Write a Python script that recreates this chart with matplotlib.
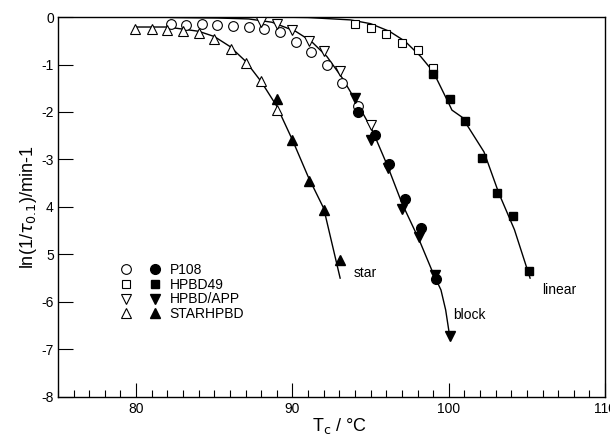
import matplotlib.pyplot as plt
from matplotlib.legend_handler import HandlerTuple
from matplotlib.ticker import MultipleLocator

plt.rcParams['font.family'] = ['Liberation Sans', 'DejaVu Sans']

## measured points (open = one set, filled = other set)
p108_open_x = [82.2, 83.2, 84.2, 85.2, 86.2, 87.2, 88.2, 89.2, 90.2, 91.2, 92.2, 93.2, 94.2]
p108_open_y = [-0.15, -0.17, -0.15, -0.17, -0.19, -0.22, -0.26, -0.32, -0.52, -0.74, -1.02, -1.38, -1.88]
p108_fill_x = [94.2, 95.3, 96.2, 97.2, 98.2, 99.2]
p108_fill_y = [-2.01, -2.48, -3.09, -3.83, -4.45, -5.52]

hpbd49_open_x = [94.0, 95.0, 96.0, 97.0, 98.0, 99.0]
hpbd49_open_y = [-0.14, -0.23, -0.36, -0.55, -0.70, -1.08]
hpbd49_fill_x = [99.0, 100.05, 101.05, 102.1, 103.1, 104.1, 105.1]
hpbd49_fill_y = [-1.19, -1.73, -2.19, -2.96, -3.71, -4.19, -5.36]

app_open_x = [88.0, 89.0, 90.0, 91.05, 92.0, 93.05, 95.0]
app_open_y = [-0.10, -0.15, -0.27, -0.50, -0.71, -1.13, -2.27]
app_fill_x = [94.0, 95.0, 96.1, 97.0, 98.1, 99.1, 100.1]
app_fill_y = [-1.71, -2.59, -3.19, -4.05, -4.64, -5.43, -6.72]

star_open_x = [79.9, 81.0, 82.0, 83.0, 84.0, 85.0, 86.05, 87.05, 88.0, 89.0]
star_open_y = [-0.26, -0.26, -0.28, -0.29, -0.34, -0.47, -0.67, -0.97, -1.35, -1.96]
star_fill_x = [89.0, 90.0, 91.05, 92.05, 93.05]
star_fill_y = [-1.73, -2.59, -3.46, -4.06, -5.12]

## fitted curves
star_cx = [80, 82, 84, 85, 86, 87, 88, 89, 90, 91, 92, 93.05]
star_cy = [-0.21, -0.21, -0.30, -0.41, -0.62, -0.93, -1.36, -1.88, -2.59, -3.36, -4.03, -5.5]
block_cx = [82.2, 85.2, 87.2, 88.7, 90.2, 91.2, 92.2, 93.2, 94.2, 95.1, 96.1, 97.0, 98.1, 99.0, 99.5, 99.8, 100.0]
block_cy = [-0.01, -0.02, -0.04, -0.11, -0.30, -0.51, -0.83, -1.29, -1.85, -2.38, -3.15, -3.92, -4.69, -5.40, -5.75, -6.17, -6.6]
linear_cx = [89.0, 91.0, 93.7, 95.0, 96.2, 97.2, 98.2, 99.0, 100.0, 100.2, 100.85, 102.25, 103.2, 104.2, 105.2]
linear_cy = [0.0, -0.01, -0.06, -0.14, -0.30, -0.51, -0.83, -1.15, -1.82, -1.96, -2.11, -2.84, -3.71, -4.48, -5.5]

yticks = [0, -1, -2, -3, -4, -5, -6, -7, -8]
ytick_labels = ['0', '-1', '-2', '-3', '4', '5', '-6', '-7', '-8']
xticks = [80, 90, 100, 110]

fig = plt.figure(figsize=(6.1, 4.37), dpi=100)
ax = fig.add_axes([0.095, 0.092, 0.897, 0.869])

for cx, cy in [(star_cx, star_cy), (block_cx, block_cy), (linear_cx, linear_cy)]:
    ax.plot(cx, cy, color='black', lw=1.0, zorder=1)

ms = 7
op = dict(ls='none', mfc='white', mec='black', mew=0.8, ms=ms, zorder=3)
fl = dict(ls='none', mfc='black', mec='black', ms=ms, zorder=3)

h1o, = ax.plot(p108_open_x, p108_open_y, 'o', **op)
h1f, = ax.plot(p108_fill_x, p108_fill_y, 'o', **fl)
h2o, = ax.plot(hpbd49_open_x, hpbd49_open_y, 's', **{**op, 'ms': 6})
h2f, = ax.plot(hpbd49_fill_x, hpbd49_fill_y, 's', **{**fl, 'ms': 6})
h3o, = ax.plot(app_open_x, app_open_y, 'v', **op)
h3f, = ax.plot(app_fill_x, app_fill_y, 'v', **fl)
h4o, = ax.plot(star_open_x, star_open_y, '^', **op)
h4f, = ax.plot(star_fill_x, star_fill_y, '^', **fl)

ax.legend([(h1o, h1f), (h2o, h2f), (h3o, h3f), (h4o, h4f)],
          ['P108', 'HPBD49', 'HPBD/APP', 'STARHPBD'],
          handler_map={tuple: HandlerTuple(ndivide=None, pad=1.2)},
          frameon=False, fontsize=10, handlelength=3.0, handletextpad=0.6,
          labelspacing=0.05, loc='upper left', bbox_to_anchor=(0.09, 0.385))

ax.text(93.9, -5.4, 'star', fontsize=10, va='center')
ax.text(100.3, -6.28, 'block', fontsize=10, va='center')
ax.text(106.0, -5.75, 'linear', fontsize=10, va='center')

ax.set_xlim(75, 110)
ax.set_ylim(-8, 0)
ax.set_xticks(xticks)
ax.xaxis.set_minor_locator(MultipleLocator(1))
ax.set_yticks(yticks)
ax.set_yticklabels(ytick_labels)
ax.tick_params(axis='x', which='major', direction='in', length=10, width=0.8, labelsize=10, pad=4)
ax.tick_params(axis='x', which='minor', direction='in', length=5, width=0.8)
ax.tick_params(axis='y', which='major', direction='in', length=10.5, width=0.8, labelsize=10, pad=3)
for s in ax.spines.values():
    s.set_linewidth(1.0)

ax.set_xlabel(r'T$_\mathrm{c}$ / °C', fontsize=13, labelpad=0)
ax.xaxis.label.set_x(0.515)
ax.set_ylabel(r'ln(1/$\tau_{0.1}$)/min-1', fontsize=13, labelpad=2)

fig.savefig('out.png', dpi=100)
